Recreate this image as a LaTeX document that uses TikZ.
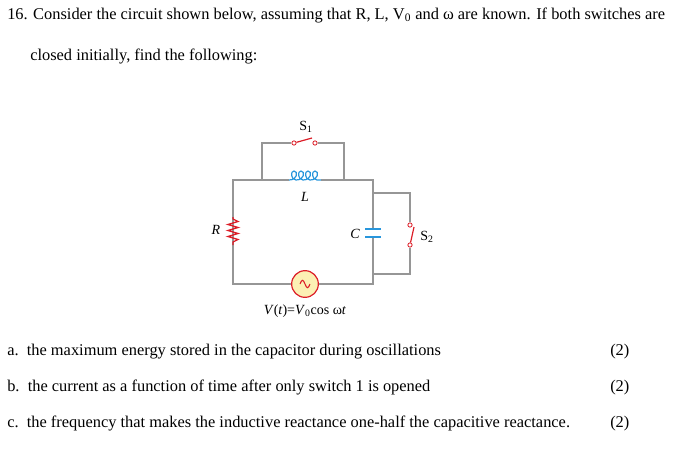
\documentclass[tikz,border=0pt]{standalone}
\usepackage{fontspec}
\setmainfont{Liberation Serif}
\definecolor{wirecolor}{RGB}{150,150,150}
\definecolor{rescolor}{RGB}{220,30,40}
\definecolor{indcolor}{RGB}{40,150,220}
\definecolor{srcfill}{RGB}{252,240,180}
\begin{document}
\begin{tikzpicture}[
  x = 0.75pt, y = -0.75pt,
  wire/.style = {color=wirecolor, line width=0.8pt},
  swtch/.style = {color=rescolor, line width=0.9pt},
  term/.style = {circle, draw=rescolor, fill=white, line width=0.6pt, inner sep=0pt, minimum size=3.2pt},
  txt/.style = {anchor=base west, inner sep=0pt, font=\fontsize{12.3}{14}\selectfont},
  lbl/.style = {font=\fontsize{10.5}{12}\selectfont},
]
  \useasboundingbox (0,0) rectangle (679,450);
  % text
  \node[txt] (q1) at (7,19) {16. Consider the circuit shown below, assuming that R, L, V\textsubscript{0} and ω are known. If both switches are};
  \node[txt] (q2) at (30,60) {closed initially, find the following:};
  \node[txt] (a1) at (7,355) {a.\ \ the maximum energy stored in the capacitor during oscillations};
  \node[txt] (b1) at (7,391) {b.\ \ the current as a function of time after only switch 1 is opened};
  \node[txt] (c1) at (7,427) {c.\ \ the frequency that makes the inductive reactance one-half the capacitive reactance.};
  \node[txt] (a2) at (610,355) {(2)};
  \node[txt] (b2) at (610,391) {(2)};
  \node[txt] (c2) at (610,427) {(2)};
  % corners
  \coordinate (tl) at (233,180);
  \coordinate (tr) at (373,180);
  \coordinate (bl) at (233,284);
  \coordinate (br) at (373,284);
  \coordinate (la) at (262,180);
  \coordinate (lb) at (344,180);
  \coordinate (ua) at (262,143);
  \coordinate (ub) at (344,143);
  \coordinate (ca) at (373,193);
  \coordinate (cb) at (373,274);
  \coordinate (sa) at (410,193);
  \coordinate (sb) at (410,274);
  % main loop
  \node[circle, draw=rescolor, fill=srcfill, line width=0.9pt, minimum size=20pt, inner sep=0pt] (src) at (305,284) {};
  \draw[rescolor, line width=0.8pt] (src.center) ++(-5,0) .. controls +(2,-5) and +(-2,-5) .. ++(5,0) .. controls +(2,5) and +(-2,5) .. ++(5,0);
  \node[lbl] (vt) at (305,311) {\textit{V}(\textit{t})=\textit{V}\textsubscript{0}cos ω\textit{t}};
  \draw[wire] (src.west) -- (bl) -- (233,217);
  \draw[wire] (233,245) -- (tl) -- (289,180);
  \draw[wire] (321,180) -- (tr) -- (373,229);
  \draw[wire] (373,237) -- (br) -- (src.east);
  % resistor
  \draw[rescolor, line width=1pt] (233,217) -- (233,219) -- (238,221.5) -- (228,224.5) -- (238,227.5) -- (228,230.5) -- (238,233.5) -- (228,236.5) -- (238,239.5) -- (233,242) -- (233,245);
  \node[lbl, font=\itshape\fontsize{10.5}{12}\selectfont] (rlab) at (216,230) {R};
  % inductor
  \draw[indcolor, line width=0.9pt] (289,180)
    \foreach \k in {0,1,2,3} {
      .. controls +(9,0) and +(4,0) .. ++(5,-9)
      .. controls +(-4,0) and +(-5,0) .. ++(2,9) }
    -- (321,180);
  \node[lbl, font=\itshape\fontsize{10.5}{12}\selectfont] (llab) at (305,197) {L};
  % capacitor
  \draw[indcolor, line width=1.1pt] (365,229) -- (381,229) (365,237) -- (381,237);
  \node[lbl, font=\itshape\fontsize{10.5}{12}\selectfont] (clab) at (355,234) {C};
  % switch 1 loop
  \node[term] (s1a) at (294,143) {};
  \node[term] (s1b) at (315,143) {};
  \draw[wire] (la) -- (ua) -- (s1a);
  \draw[wire] (s1b) -- (ub) -- (lb);
  \draw[swtch] (s1a) -- ++(18,-5);
  \node[lbl] (s1lab) at (306,127) {S\textsubscript{1}};
  % switch 2 loop
  \node[term] (s2a) at (410,225) {};
  \node[term] (s2b) at (410,245) {};
  \draw[wire] (ca) -- (sa) -- (s2a);
  \draw[wire] (s2b) -- (sb) -- (cb);
  \draw[swtch] (s2b) -- ++(4,-18);
  \node[lbl] (s2lab) at (427,237) {S\textsubscript{2}};
\end{tikzpicture}
\end{document}
